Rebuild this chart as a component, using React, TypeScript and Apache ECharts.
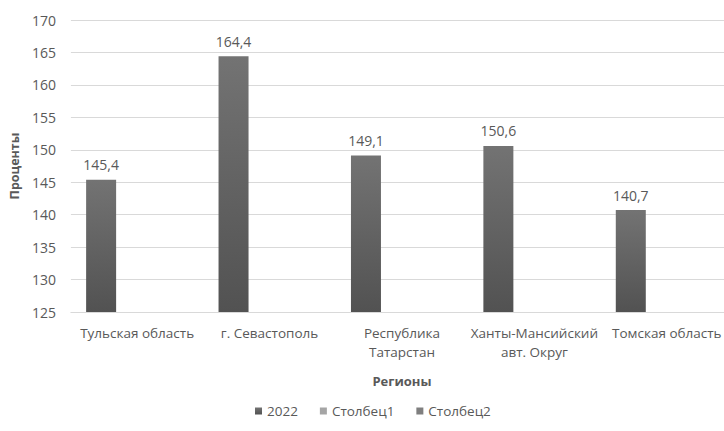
import React, { useEffect, useRef } from "react";
import * as echarts from "echarts";

const categories = [
  "Тульская область",
  "г. Севастополь",
  "Республика\nТатарстан",
  "Ханты-Мансийский\nавт. Округ",
  "Томская область",
];
const values2022 = [145.4, 164.4, 149.1, 150.6, 140.7];
const valuesCol1: (number | null)[] = [null, null, null, null, null];
const valuesCol2: (number | null)[] = [null, null, null, null, null];
const seriesNames = ["2022", "Столбец1", "Столбец2"];

const FONT = "Open Sans";
const TXT = "#595959";

export default function App() {
  const ref = useRef<HTMLDivElement>(null);
  useEffect(() => {
    document.body.style.margin = "0";
    const chart = echarts.init(ref.current!, null, { renderer: "svg" });
    const barGrad = new echarts.graphic.LinearGradient(0, 0, 0, 1, [
      { offset: 0, color: "#737373" },
      { offset: 1, color: "#525252" },
    ]);
    chart.setOption({
      animation: false,
      textStyle: { fontFamily: FONT },
      grid: { left: 70, top: 20, bottom: 119, right: 7 },
      legend: {
        left: 250,
        top: 399,
        icon: "rect",
        itemWidth: 7,
        itemHeight: 7,
        itemGap: 22,
        itemStyle: { borderWidth: 0 },
        textStyle: { color: TXT, fontSize: 13.5, fontFamily: FONT },
        data: seriesNames,
      },
      xAxis: {
        type: "category",
        data: categories,
        name: "Регионы",
        nameLocation: "middle",
        nameGap: 62,
        nameTextStyle: { color: TXT, fontWeight: "bold", fontSize: 13, fontFamily: FONT },
        axisLine: { lineStyle: { color: "#d9d9d9" } },
        axisTick: { show: false },
        axisLabel: { color: TXT, fontSize: 13.5, margin: 11, lineHeight: 19, interval: 0, fontFamily: FONT },
      },
      yAxis: {
        type: "value",
        min: 125,
        max: 170,
        interval: 5,
        name: "Проценты",
        nameLocation: "middle",
        nameGap: 45,
        nameTextStyle: { color: TXT, fontWeight: "bold", fontSize: 12.5, fontFamily: FONT },
        axisLine: { show: false },
        axisTick: { show: false },
        axisLabel: { color: TXT, fontSize: 14, margin: 15, fontFamily: FONT },
        splitLine: { lineStyle: { color: "#d9d9d9" } },
      },
      series: [
        {
          name: seriesNames[0],
          type: "bar",
          data: values2022,
          barWidth: 30,
          barGap: "20%",
          itemStyle: { color: barGrad },
          label: {
            show: true,
            position: "top",
            distance: 8,
            color: TXT,
            fontSize: 14,
            fontFamily: FONT,
            formatter: (p: any) => p.value.toFixed(1).replace(".", ","),
          },
        },
        {
          name: seriesNames[1],
          type: "bar",
          data: valuesCol1,
          barWidth: 30,
          itemStyle: { color: "#a5a5a5" },
        },
        {
          name: seriesNames[2],
          type: "bar",
          data: valuesCol2,
          barWidth: 30,
          itemStyle: { color: "#7f7f7f" },
        },
      ],
    });
    return () => chart.dispose();
  }, []);
  return (
    <div style={{ width: 724, height: 431, overflow: "hidden", position: "relative" }}>
      <div ref={ref} style={{ width: 740, height: 431 }} />
    </div>
  );
}
